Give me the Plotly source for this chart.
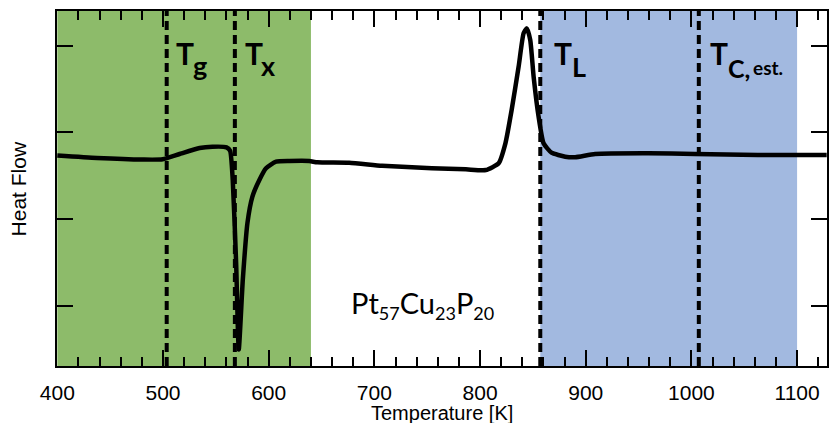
import plotly.graph_objects as go

# DSC scan of Pt57Cu23P20 glass: heat flow in arbitrary units vs. temperature
temperature_K = [400, 437.5, 480.8, 499.7, 515.7, 534.6, 546.8, 560.1, 563.5, 566.0,
                 569.2, 571.7, 575.5, 579.9, 584.6, 591.2, 597.5, 607.0, 619.5, 638.4,
                 646.0, 676.2, 707.3, 754.4, 786.5, 805.4, 817.6, 824.0, 829.9, 836.5,
                 841.2, 844.3, 847.5, 850.7, 855.4, 860.1, 867.6, 880.6, 890.0, 908.9,
                 959.2, 1003.2, 1062.9, 1128]
heat_flow = [1.734, 1.706, 1.688, 1.691, 1.752, 1.821, 1.836, 1.829, 1.790, 1.452,
             0.496, -0.50, 0.300, 0.957, 1.260, 1.452, 1.587, 1.663, 1.671, 1.671,
             1.656, 1.651, 1.617, 1.587, 1.575, 1.567, 1.645, 1.875, 2.259, 2.758,
             3.143, 3.200, 3.066, 2.643, 2.182, 1.875, 1.767, 1.721, 1.714, 1.752,
             1.760, 1.752, 1.740, 1.740]

# characteristic temperatures [K]
T_g = 503.5
T_x = 568
T_L = 857
T_c_est = 1007

# shaded temperature windows [K]
green_window = [400, 640]
blue_window = [T_L, 1100]

x_ticks = [400, 500, 600, 700, 800, 900, 1000, 1100]
y_ticks = [0, 1, 2, 3]
x_range = [399.7, 1128.3]

W, H = 829, 423
ML, MR, MT, MB = 57, 0, 11, 57
PLOT_H = H - MT - MB

GREEN = "rgb(141,187,106)"
BLUE = "rgb(162,185,224)"
LABEL_FONT = "Lato"
AXIS_FONT = "Liberation Sans, Arial, sans-serif"


def paper_y(px):
    return (H - MB - px) / PLOT_H


fig = go.Figure()

fig.add_trace(go.Scatter(
    x=temperature_K, y=heat_flow, mode="lines",
    line=dict(color="black", width=4.5, shape="spline", smoothing=0.5),
    hoverinfo="skip", showlegend=False,
))
# invisible anchor so the top tick axis gets drawn
fig.add_trace(go.Scatter(
    x=temperature_K[:1], y=heat_flow[:1], xaxis="x2", mode="markers",
    marker=dict(opacity=0), hoverinfo="skip", showlegend=False,
))

# shaded windows
for (x0, x1), col in [(green_window, GREEN), (blue_window, BLUE)]:
    fig.add_shape(type="rect", xref="x", yref="paper", x0=x0, x1=x1, y0=0, y1=1,
                  fillcolor=col, line=dict(width=0), layer="below")

# dashed markers for the characteristic temperatures
for t in [T_g, T_x, T_L, T_c_est]:
    fig.add_shape(type="line", xref="x", yref="paper", x0=t, x1=t, y0=0, y1=1,
                  line=dict(color="black", width=4, dash="9px,5px"), layer="below")


def text_at(x, xshift, text, size, baseline_px, bold=True, font=LABEL_FONT, ascent=0.987):
    fig.add_annotation(
        x=x, xref="x", xanchor="left", xshift=xshift,
        y=paper_y(baseline_px - ascent * size - 1), yref="paper", yanchor="top",
        text=text, showarrow=False,
        font=dict(family=font, size=size, color="black",
                  weight="bold" if bold else "normal"),
    )


# T labels with separate subscript pieces
text_at(T_g, 7, "T", 30, 64)
text_at(T_g, 24, "g", 27, 75)
text_at(T_x, 8, "T", 30, 64)
text_at(T_x, 24.5, "x", 27, 75)
text_at(T_L, 12, "T", 30, 64)
text_at(T_L, 29.5, "L", 27, 76)
text_at(T_c_est, 9, "T", 30, 64)
text_at(T_c_est, 27.5, "C,", 25, 76.5)
text_at(T_c_est, 52, "est.", 19, 74)

# alloy composition
text_at(678.3, -2,
        "Pt<sub><span style='font-size:18px'>57</span></sub>"
        "Cu<sub><span style='font-size:18px'>23</span></sub>"
        "P<sub><span style='font-size:18px'>20</span></sub>",
        29, 312.3, bold=False)

# axis titles
fig.add_annotation(
    x=0.5, xref="paper", xanchor="center",
    y=paper_y(419 - 0.905 * 20 - 1), yref="paper", yanchor="top",
    text="Temperature [K]", showarrow=False,
    font=dict(family=AXIS_FONT, size=20, color="black"),
)
fig.add_annotation(
    x=(18.8 - ML) / (W - ML - MR), xref="paper", xanchor="center",
    y=0.5, yref="paper", yanchor="middle",
    text="Heat Flow", textangle=-90, showarrow=False,
    font=dict(family=AXIS_FONT, size=21, color="black"),
)

tick_style = dict(ticks="inside", ticklen=16, tickwidth=2, tickcolor="black")
minor_style = dict(dtick=20, tick0=400, ticks="inside", ticklen=9,
                   tickwidth=2, tickcolor="black", showgrid=False)

fig.update_layout(
    width=W, height=H,
    margin=dict(l=ML, r=MR, t=MT, b=MB, pad=0),
    paper_bgcolor="white", plot_bgcolor="white",
    showlegend=False,
    xaxis=dict(
        range=x_range,
        tickvals=x_ticks, ticktext=[str(v) for v in x_ticks],
        minor=minor_style,
        showline=True, linewidth=2, linecolor="black", mirror=True,
        showgrid=False, zeroline=False,
        tickfont=dict(family=AXIS_FONT, size=21, color="black"),
        ticklabelstandoff=7,
        **tick_style,
    ),
    xaxis2=dict(
        range=x_range, overlaying="x", side="top", anchor="y",
        tickvals=x_ticks, showticklabels=False,
        minor=minor_style,
        showline=False, showgrid=False, zeroline=False,
        **tick_style,
    ),
    yaxis=dict(
        range=[-0.691, 3.40],
        tickvals=y_ticks, showticklabels=False,
        showline=True, linewidth=2, linecolor="black", mirror="ticks",
        showgrid=False, zeroline=False,
        **tick_style,
    ),
)

fig.write_html("out.html")
